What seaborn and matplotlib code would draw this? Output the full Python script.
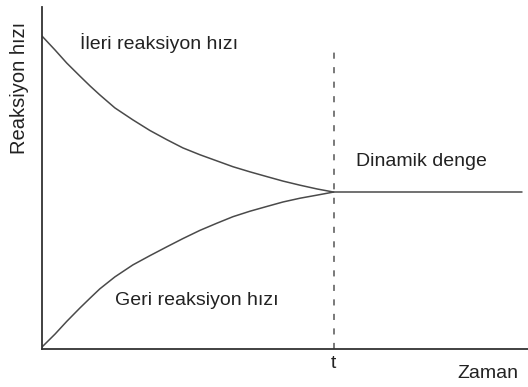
import pandas as pd
import seaborn as sns
import matplotlib.pyplot as plt

# values (time 0-100, rate 0-100)
curve_time = [0, 2.7, 5.1, 7.8, 9.9, 11.9, 15.0, 18.7, 22.2, 25.7,
              29.0, 32.5, 36.0, 39.3, 42.8, 46.3, 49.6, 53.1, 56.6, 60]
forward_rate = [91.5, 87.4, 83.6, 79.8, 76.9, 74.3, 70.5, 67.0, 63.9, 61.2,
                58.8, 56.8, 55.0, 53.3, 51.8, 50.4, 49.1, 47.9, 46.8, 45.9]
reverse_rate = [0.6, 4.4, 8.1, 12.0, 14.9, 17.6, 21.1, 24.6, 27.3, 29.9,
                32.3, 34.7, 36.8, 38.7, 40.3, 41.7, 43.0, 44.1, 45.0, 45.9]

equilibrium_time = [60, 98.8]
equilibrium_rate = [45.9, 45.9]

t_eq = 60
dash_top = 86.8

sns.set_style("white")
plt.rcParams['font.family'] = ['Liberation Sans', 'DejaVu Sans']

fig = plt.figure(figsize=(5.28, 3.87), dpi=100)
ax = fig.add_axes([0.0795, 0.098, 0.9205, 0.884])

line_color = '#4a4a4a'
fwd = pd.DataFrame({'Zaman': curve_time, 'Hiz': forward_rate})
rev = pd.DataFrame({'Zaman': curve_time, 'Hiz': reverse_rate})
eq = pd.DataFrame({'Zaman': equilibrium_time, 'Hiz': equilibrium_rate})

sns.lineplot(data=fwd, x='Zaman', y='Hiz', ax=ax, color=line_color, linewidth=1.1)
sns.lineplot(data=rev, x='Zaman', y='Hiz', ax=ax, color=line_color, linewidth=1.1)
sns.lineplot(data=eq, x='Zaman', y='Hiz', ax=ax, color=line_color, linewidth=1.1)

# dashed line at equilibrium time
ax.plot([t_eq, t_eq], [0, dash_top], color='#555555', linewidth=1.1,
        linestyle=(0, (4, 5.5)))

ax.set_xlim(0, 100)
ax.set_ylim(0, 100)
ax.set_xticks([])
ax.set_yticks([])
ax.set_xlabel('')
ax.set_ylabel('')

for side in ['top', 'right']:
    ax.spines[side].set_visible(False)
for side in ['left', 'bottom']:
    ax.spines[side].set_color('#333333')
    ax.spines[side].set_linewidth(1.3)

txt = dict(color='#222222', fontsize=14)
ax.text(7.8, 89.5, 'İleri reaksiyon hızı', ha='left', va='center', **txt)
ax.text(15.0, 14.3, 'Geri reaksiyon hızı', ha='left', va='center', **txt)
ax.text(64.6, 54.7, 'Dinamik denge', ha='left', va='center', **txt)

fig.text(333 / 528, 1 - 363 / 387, 't', ha='center', va='center', **txt)
fig.text(518 / 528, 1 - 373 / 387, 'Zaman', ha='right', va='center', **txt)
fig.text(20 / 528, 1 - 88 / 387, 'Reaksiyon hızı', ha='center', va='center',
         rotation=90, color='#222222', fontsize=14.5)

plt.savefig('out.png', dpi=100)
